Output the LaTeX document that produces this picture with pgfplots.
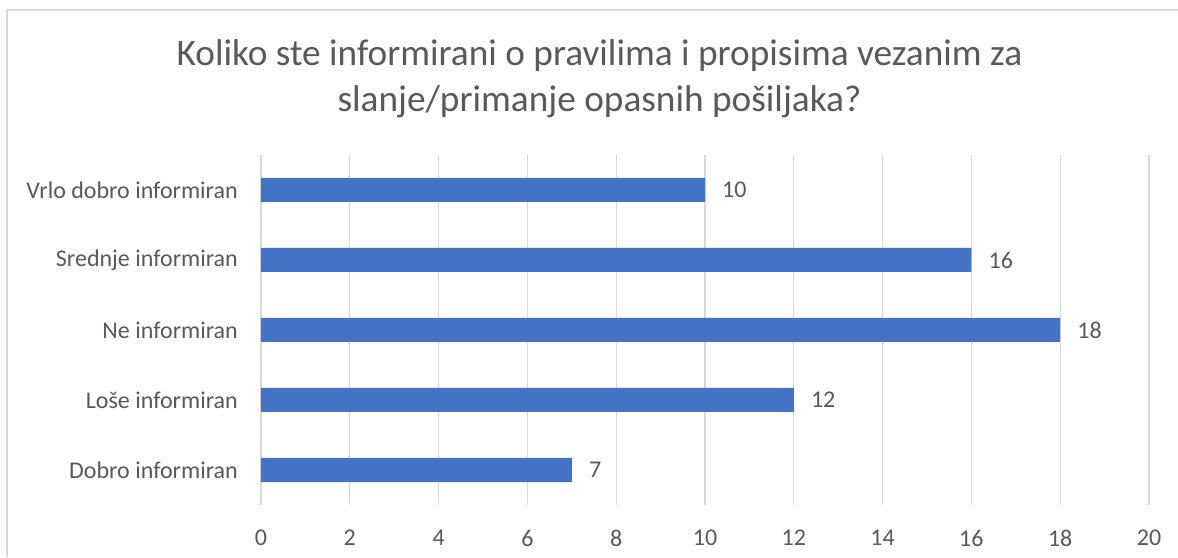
\documentclass[border=0pt]{standalone}
\usepackage{pgfplots}
\pgfplotsset{compat=1.18}
\usepackage{fontspec}
\setmainfont{Carlito}
\definecolor{barblue}{HTML}{4472C4}
\definecolor{txtgray}{HTML}{595959}
\definecolor{gridgray}{HTML}{D9D9D9}
\begin{document}
\begin{tikzpicture}[x=1pt,y=1pt]
\path[use as bounding box, fill=white] (0,0) rectangle (1178,557);
\draw[gridgray, line width=1.2pt] (7,0) -- (7,547) -- (1178,547);
\node[anchor=base, text=txtgray, font=\fontsize{37.3}{45}\selectfont, inner sep=0pt] at (599.5,491) {Koliko ste informirani o pravilima i propisima vezanim za};
\node[anchor=base, text=txtgray, font=\fontsize{37.3}{45}\selectfont, inner sep=0pt] at (599.5,445) {slanje/primanje opasnih pošiljaka?};
\begin{axis}[
  at={(261pt,52pt)}, anchor=south west,
  scale only axis, width=888pt, height=350pt,
  xbar, bar width=24pt,
  xmin=0, xmax=20, xtick distance=2,
  ymin=-0.5, ymax=4.5,
  ytick={0,1,2,3,4},
  yticklabels={Dobro informiran, Loše informiran, Ne informiran, Srednje informiran, Vrlo dobro informiran},
  axis line style={draw=none},
  major tick length=0pt,
  xmajorgrids, major grid style={gridgray, line width=1.3pt},
  ymajorgrids=false,
  /pgf/number format/assume math mode=true,
  tick label style={text=txtgray, font=\fontsize{24}{29}\selectfont, inner sep=0pt},
  yticklabel style={anchor=east, xshift=-23pt},
  xticklabel style={anchor=north, yshift=-25pt},
  nodes near coords,
  every node near coord/.append style={anchor=west, inner sep=0pt, xshift=17pt, text=txtgray, font=\fontsize{24}{29}\selectfont},
  clip=false,
]
\addplot[fill=barblue, draw=none] coordinates {(7,0) (12,1) (18,2) (16,3) (10,4)};
\end{axis}
\end{tikzpicture}
\end{document}
